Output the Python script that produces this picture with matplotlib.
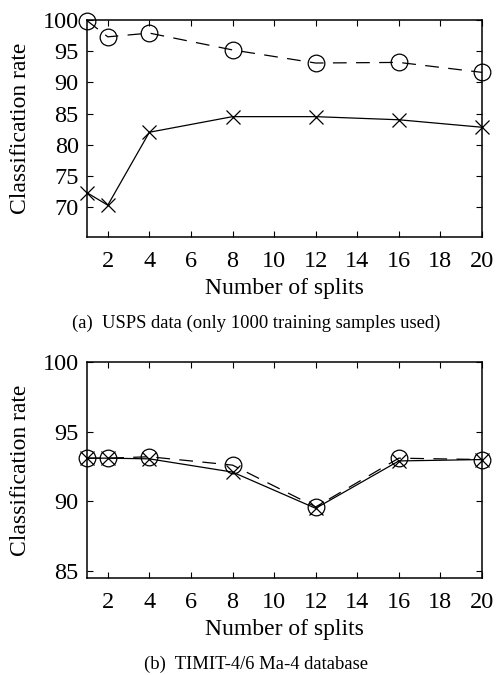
import matplotlib
matplotlib.use("Agg")
import matplotlib.pyplot as plt

plt.rcParams['font.family'] = ['Liberation Serif', 'DejaVu Serif']
plt.rcParams['mathtext.fontset'] = 'stix'

splits = [1, 2, 4, 8, 12, 16, 20]

usps_circle = [99.9, 97.3, 97.9, 95.2, 93.1, 93.2, 91.6]
usps_cross = [72.3, 70.3, 82.0, 84.5, 84.5, 84.0, 82.8]

timit_circle = [93.1, 93.1, 93.2, 92.6, 89.6, 93.1, 93.0]
timit_cross = [93.1, 93.1, 93.05, 92.1, 89.5, 92.9, 93.0]

x_ticks = [2, 4, 6, 8, 10, 12, 14, 16, 18, 20]
usps_yticks = [70, 75, 80, 85, 90, 95, 100]
timit_yticks = [85, 90, 95, 100]

xlabel = "Number of splits"
ylabel = "Classification rate"
caption_a = "(a)  USPS data (only 1000 training samples used)"
caption_b = "(b)  TIMIT-4/6 Ma-4 database"

W, H = 496, 675
fig = plt.figure(figsize=(W / 100, H / 100), dpi=100)


def make_ax(rect, circ, cross, yticks, ylim):
    ax = fig.add_axes(rect)
    ax.plot(splits, circ, color='black', lw=0.9, linestyle=(0, (11, 7.5)),
            marker='o', markersize=12, markerfacecolor='none',
            markeredgewidth=0.9, clip_on=False, zorder=3)
    ax.plot(splits, cross, color='black', lw=0.9, linestyle='-',
            marker='x', markersize=10, markeredgewidth=0.9,
            clip_on=False, zorder=3)
    ax.set_xlim(1, 20)
    ax.set_ylim(*ylim)
    ax.set_xticks(x_ticks)
    ax.set_yticks(yticks)
    ax.tick_params(direction='in', length=4.5, width=0.8, top=True, right=True,
                   labelsize=17.5)
    ax.tick_params(axis='x', pad=10)
    ax.tick_params(axis='y', pad=6)
    for s in ax.spines.values():
        s.set_linewidth(1.1)
    ax.set_xlabel(xlabel, fontsize=17, labelpad=4.5)
    ax.set_ylabel(ylabel, fontsize=17, labelpad=8)
    return ax


ax1 = make_ax([87 / W, 1 - 237 / H, 395 / W, 217 / H],
              usps_circle, usps_cross, usps_yticks, (65.2, 100))
ax2 = make_ax([87 / W, 1 - 578 / H, 395 / W, 216 / H],
              timit_circle, timit_cross, timit_yticks, (84.5, 100))

fig.text(256 / W, 1 - 323 / H, caption_a, ha='center', va='center', fontsize=13.4)
fig.text(256 / W, 1 - 664 / H, caption_b, ha='center', va='center', fontsize=13.4)

fig.savefig("out.png", dpi=100)
